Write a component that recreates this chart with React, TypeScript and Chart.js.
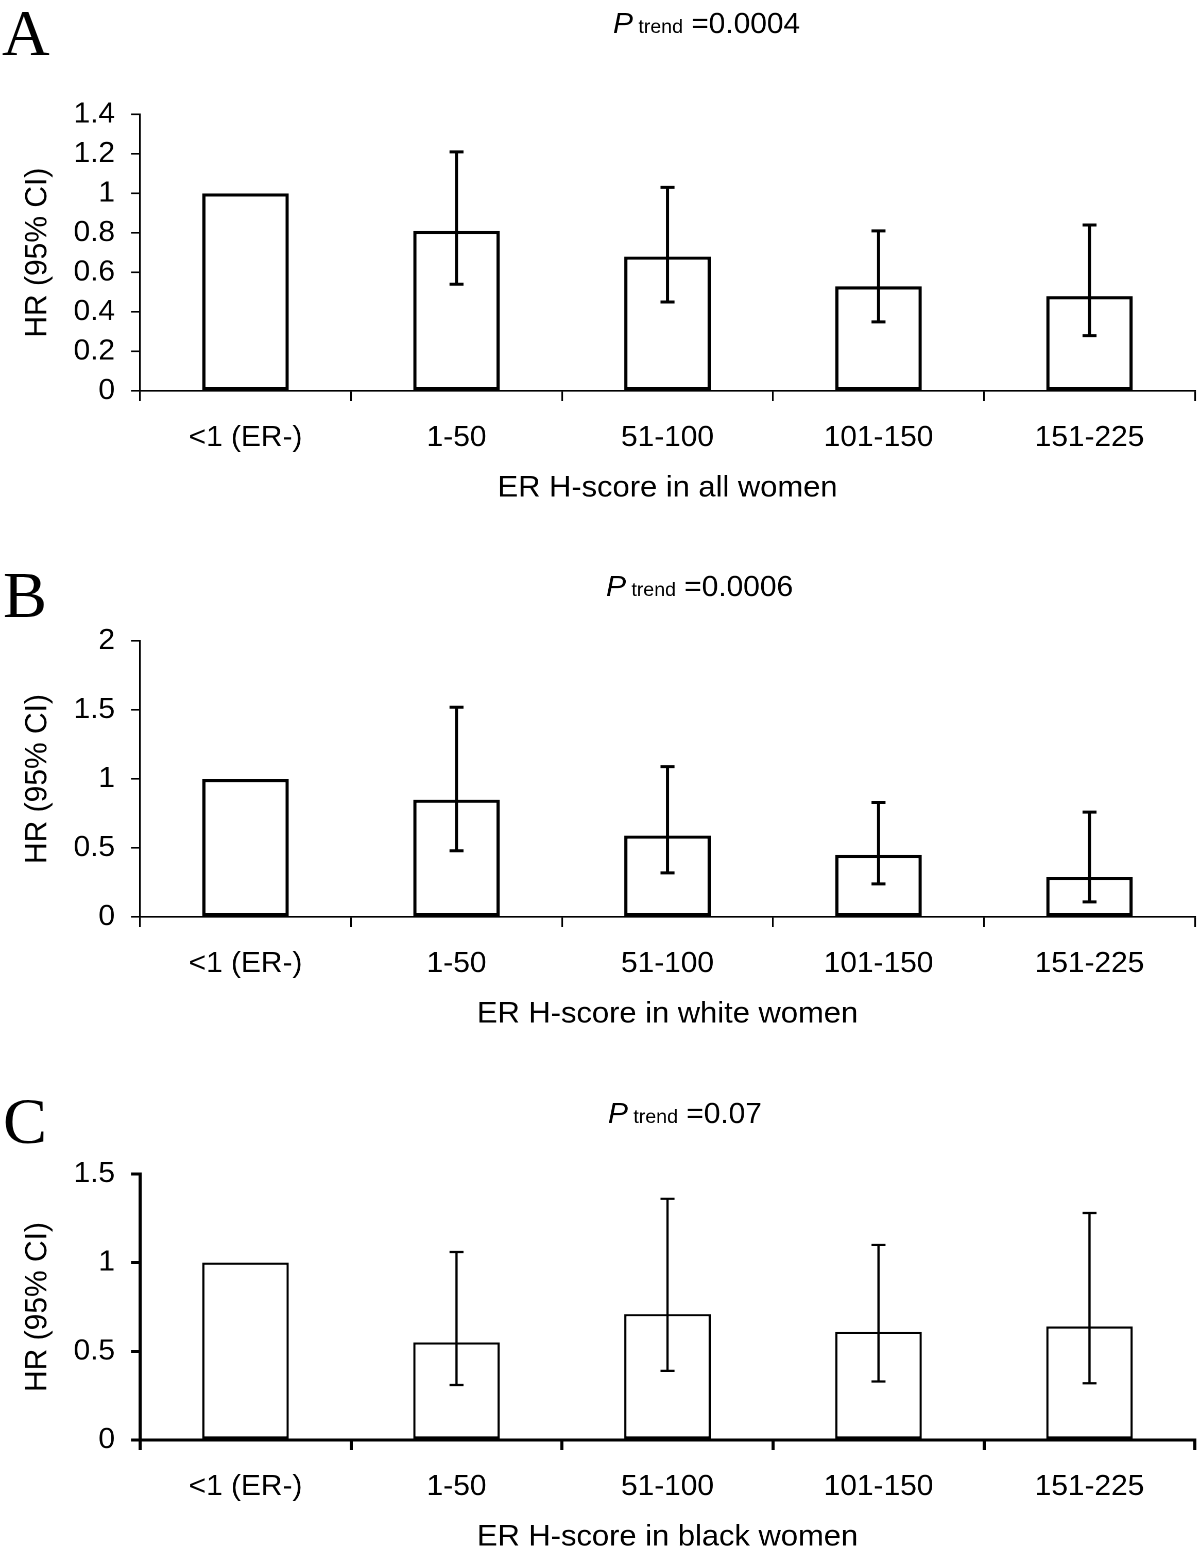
import React, { useEffect, useRef } from "react";
import { Chart, registerables } from "chart.js";

Chart.register(...registerables);

// ---------- data ----------
const categories = ["<1 (ER-)", "1-50", "51-100", "101-150", "151-225"];

const hrAll = [1, 0.81, 0.68, 0.53, 0.48];
const loAll = [null, 0.54, 0.45, 0.35, 0.28];
const hiAll = [null, 1.21, 1.03, 0.81, 0.84];
const yTicksAll = [0, 0.2, 0.4, 0.6, 0.8, 1, 1.2, 1.4];

const hrWhite = [1, 0.85, 0.59, 0.45, 0.29];
const loWhite = [null, 0.48, 0.32, 0.24, 0.11];
const hiWhite = [null, 1.52, 1.09, 0.83, 0.76];
const yTicksWhite = [0, 0.5, 1, 1.5, 2];

const hrBlack = [1, 0.55, 0.71, 0.61, 0.64];
const loBlack = [null, 0.31, 0.39, 0.33, 0.32];
const hiBlack = [null, 1.06, 1.36, 1.1, 1.28];
const yTicksBlack = [0, 0.5, 1, 1.5];

const xTitles = [
  "ER H-score in all women",
  "ER H-score in white women",
  "ER H-score in black women",
];
const pValues = ["=0.0004", "=0.0006", "=0.07"];
const panelLetters = ["A", "B", "C"];
const yTitle = "HR (95% CI)";

// ---------- layout ----------
const CW = 1165;
const S = 1200 / CW; // slight horizontal stretch of the original figure
const SANS = "'Liberation Sans', Arial, Helvetica, sans-serif";
const TICK_FONT = 29;
const TITLE_FONT = 30;
const XH = 115;

type PanelCfg = {
  top: number;
  plotTop: number;
  plotBottom: number;
  hr: number[];
  lo: (number | null)[];
  hi: (number | null)[];
  ticks: number[];
  xTitle: string;
  p: string;
  pX: number;
  pBase: number;
  barW: number;
  axisW: number;
  errW: number;
};

const panels: PanelCfg[] = [
  {
    top: 0, plotTop: 114.3, plotBottom: 390.5,
    hr: hrAll, lo: loAll, hi: hiAll, ticks: yTicksAll,
    xTitle: xTitles[0], p: pValues[0], pX: 613, pBase: 33,
    barW: 3.2, axisW: 1.6, errW: 3,
  },
  {
    top: 540, plotTop: 641, plotBottom: 917,
    hr: hrWhite, lo: loWhite, hi: hiWhite, ticks: yTicksWhite,
    xTitle: xTitles[1], p: pValues[1], pX: 606, pBase: 596,
    barW: 3.2, axisW: 1.6, errW: 3,
  },
  {
    top: 1060, plotTop: 1174, plotBottom: 1440,
    hr: hrBlack, lo: loBlack, hi: hiBlack, ticks: yTicksBlack,
    xTitle: xTitles[2], p: pValues[2], pX: 608, pBase: 1123,
    barW: 2.2, axisW: 3, errW: 2.2,
  },
];

function errorBarsPlugin(lo: (number | null)[], hi: (number | null)[], lw: number) {
  return {
    id: "errorBars",
    afterDatasetsDraw(chart: any) {
      const ctx = chart.ctx;
      const meta = chart.getDatasetMeta(0);
      const y = chart.scales.y;
      const cap = 7 / S;
      ctx.save();
      ctx.strokeStyle = "#000";
      ctx.lineWidth = lw;
      ctx.lineCap = "butt";
      meta.data.forEach((bar: any, i: number) => {
        if (lo[i] == null || hi[i] == null) return;
        const yl = y.getPixelForValue(lo[i]);
        const yh = y.getPixelForValue(hi[i]);
        ctx.beginPath();
        ctx.moveTo(bar.x, yl);
        ctx.lineTo(bar.x, yh);
        ctx.moveTo(bar.x - cap, yl);
        ctx.lineTo(bar.x + cap, yl);
        ctx.moveTo(bar.x - cap, yh);
        ctx.lineTo(bar.x + cap, yh);
        ctx.stroke();
      });
      ctx.restore();
    },
  };
}

function pTrendPlugin(x: number, base: number, value: string) {
  return {
    id: "pTrend",
    afterDraw(chart: any) {
      const ctx = chart.ctx;
      ctx.save();
      ctx.fillStyle = "#000";
      ctx.textBaseline = "alphabetic";
      ctx.textAlign = "left";
      let cx = x;
      ctx.font = `italic 29px ${SANS}`;
      ctx.fillText("P", cx, base);
      cx += ctx.measureText("P").width;
      ctx.font = `19px ${SANS}`;
      ctx.fillText(" trend", cx, base);
      cx += ctx.measureText(" trend").width;
      ctx.font = `29px ${SANS}`;
      ctx.fillText(" " + value, cx, base);
      ctx.restore();
    },
  };
}

function Panel({ cfg }: { cfg: PanelCfg }) {
  const ref = useRef<HTMLCanvasElement | null>(null);
  const height = Math.round(cfg.plotBottom - cfg.top + XH);

  useEffect(() => {
    if (!ref.current) return;
    const tickFont = { family: SANS, size: TICK_FONT };
    const titleFont = { family: SANS, size: TITLE_FONT };
    const yMax = cfg.ticks[cfg.ticks.length - 1];
    const chart = new Chart(ref.current, {
      type: "bar",
      data: {
        labels: categories,
        datasets: [
          {
            data: cfg.hr,
            backgroundColor: "#ffffff",
            borderColor: "#000000",
            borderWidth: cfg.barW,
            borderSkipped: false,
            barPercentage: 0.41,
            categoryPercentage: 1,
          },
        ],
      },
      options: {
        animation: false,
        responsive: false,
        devicePixelRatio: 2,
        layout: {
          padding: { top: cfg.plotTop - cfg.top, left: 0, right: CW - 1195 / S, bottom: 0 },
        },
        plugins: {
          legend: { display: false },
          tooltip: { enabled: false },
          title: { display: false },
        },
        scales: {
          x: {
            offset: true,
            grid: {
              display: true,
              offset: true,
              drawOnChartArea: false,
              drawTicks: true,
              tickLength: 10,
              color: "#000",
              tickColor: "#000",
              tickWidth: cfg.axisW,
              lineWidth: cfg.axisW,
            },
            border: { display: true, color: "#000", width: cfg.axisW },
            ticks: {
              color: "#000",
              font: tickFont,
              padding: 19.6,
              maxRotation: 0,
              minRotation: 0,
              autoSkip: false,
            },
            title: {
              display: true,
              text: cfg.xTitle,
              color: "#000",
              font: titleFont,
              padding: { top: 0, bottom: 0 },
            },
            afterFit: (s: any) => {
              s.height = XH;
            },
          },
          y: {
            min: 0,
            max: yMax,
            afterBuildTicks: (s: any) => {
              s.ticks = cfg.ticks.map((v) => ({ value: v }));
            },
            ticks: {
              color: "#000",
              font: tickFont,
              padding: 15.5,
              callback: (v: any) => String(v),
            },
            grid: {
              display: true,
              drawOnChartArea: false,
              drawTicks: true,
              tickLength: 9 / S,
              color: "#000",
              tickColor: "#000",
              tickWidth: cfg.axisW,
              lineWidth: cfg.axisW,
            },
            border: { display: true, color: "#000", width: cfg.axisW },
            title: {
              display: true,
              text: yTitle,
              color: "#000",
              font: titleFont,
              padding: { top: 38 / S - TITLE_FONT * 0.6, bottom: 0 },
            },
            afterFit: (s: any) => {
              s.width = 140 / S;
            },
          },
        },
      } as any,
      plugins: [
        errorBarsPlugin(cfg.lo, cfg.hi, cfg.errW),
        pTrendPlugin(cfg.pX / S, cfg.pBase - cfg.top, cfg.p),
      ],
    });
    return () => chart.destroy();
  }, [cfg]);

  return (
    <div
      style={{
        position: "absolute",
        left: 0,
        top: cfg.top,
        transformOrigin: "0 0",
        transform: `scaleX(${S})`,
      }}
    >
      <canvas ref={ref} width={CW} height={height} style={{ display: "block" }} />
    </div>
  );
}

const letterTops = [0, 562, 1088];
const letterLefts = [2, 3, 3];

export default function App() {
  return (
    <div
      style={{
        position: "absolute",
        left: 0,
        top: 0,
        width: 1200,
        height: 1560,
        background: "#fff",
        overflow: "hidden",
      }}
    >
      {panels.map((p, i) => (
        <Panel key={i} cfg={p} />
      ))}
      {panelLetters.map((l, i) => (
        <div
          key={l}
          style={{
            position: "absolute",
            left: letterLefts[i],
            top: letterTops[i],
            fontFamily: "'Liberation Serif', 'Times New Roman', serif",
            fontSize: 66,
            lineHeight: "66px",
            color: "#000",
          }}
        >
          {l}
        </div>
      ))}
    </div>
  );
}
